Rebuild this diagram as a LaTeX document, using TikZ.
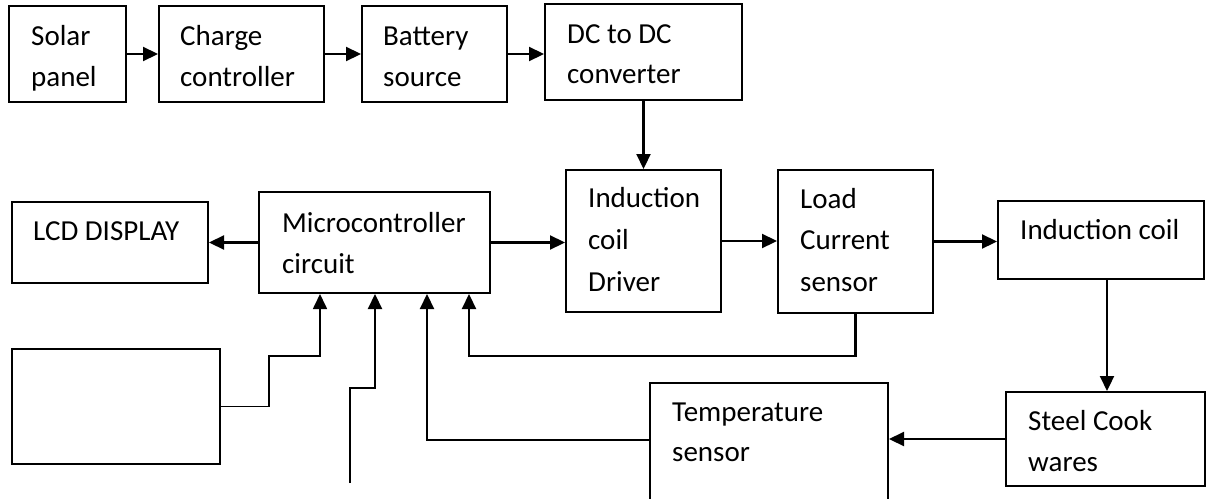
\documentclass[tikz,border=0pt]{standalone}
\usepackage{fontspec}
\setmainfont{Carlito}
\usetikzlibrary{arrows.meta}
\begin{document}
\begin{tikzpicture}[x=1pt,y=-1pt,
  box/.style={draw, line width=2pt, inner sep=0pt},
  txt/.style={anchor=base west, inner sep=0pt, font=\fontsize{29}{34}\selectfont},
  arr/.style={line width=2.2pt, -{Triangle[length=15pt,width=14pt]}}]
\useasboundingbox (0,0) rectangle (1207,498);
% boxes
\node[box, minimum width=117pt, minimum height=96pt] (solar) at (67.5,54) {};
\node[box, minimum width=165pt, minimum height=96pt] (charge) at (241.5,54) {};
\node[box, minimum width=145pt, minimum height=96pt] (battery) at (434.5,54) {};
\node[box, minimum width=197pt, minimum height=96pt] (dcdc) at (643.5,52) {};
\node[box, minimum width=196pt, minimum height=81pt] (lcd) at (110,242.5) {};
\node[box, minimum width=231pt, minimum height=101pt] (micro) at (374.5,242.5) {};
\node[box, minimum width=155pt, minimum height=142pt] (driver) at (643.5,241) {};
\node[box, minimum width=155pt, minimum height=143pt] (load) at (855.5,241.5) {};
\node[box, minimum width=206pt, minimum height=78pt] (coil) at (1101,240) {};
\node[box, minimum width=208pt, minimum height=115pt] (blank) at (116,406.5) {};
\node[box, minimum width=238pt, minimum height=124pt] (temp) at (769,445) {};
\node[box, minimum width=199pt, minimum height=94pt] (steel) at (1105.5,439) {};
% texts
\node[txt] (t1) at (31,45) {Solar};
\node[txt] (t2) at (31,86) {panel};
\node[txt] (t3) at (180,45) {Charge};
\node[txt] (t4) at (180,86) {controller};
\node[txt] (t5) at (383,45) {Battery};
\node[txt] (t6) at (383,86) {source};
\node[txt] (t7) at (567,43) {DC to DC};
\node[txt] (t8) at (567,83) {converter};
\node[txt] (t9) at (33,240) {LCD DISPLAY};
\node[txt] (t10) at (282,232) {Microcontroller};
\node[txt] (t11) at (282,273) {circuit};
\node[txt] (t12) at (588,207) {Induction};
\node[txt] (t13) at (588,249) {coil};
\node[txt] (t14) at (588,291) {Driver};
\node[txt] (t15) at (800,208) {Load};
\node[txt] (t16) at (800,249) {Current};
\node[txt] (t17) at (800,291) {sensor};
\node[txt] (t18) at (1020,239) {Induction coil};
\node[txt] (t19) at (672,421) {Temperature};
\node[txt] (t20) at (672,461) {sensor};
\node[txt] (t21) at (1028,430) {Steel Cook};
\node[txt] (t22) at (1028,471) {wares};
% helper coordinates
\coordinate (fb) at (469,356);
\coordinate (s1a) at (269,356);
\coordinate (s1b) at (320,356);
\coordinate (free) at (350,483);
\coordinate (s2) at (375,388);
% connectors
\draw[arr] (solar.east) -- (charge.west);
\draw[arr] (charge.east) -- (battery.west);
\draw[arr] (battery.east) -- (battery.east -| dcdc.west);
\draw[arr] (dcdc.south) -- (driver.north);
\draw[arr] (micro.west) -- (lcd.east);
\draw[arr] (micro.east) -- (micro.east -| driver.west);
\draw[arr] (driver.east) -- (driver.east -| load.west);
\draw[arr] (load.east) -- (load.east -| coil.west);
\draw[arr] ([xshift=6pt]coil.south) -- ([xshift=6pt]coil.south |- steel.north);
\draw[arr] (steel.west) -- (steel.west -| temp.east);
\draw[arr] (temp.west |- 0,440) -| ([xshift=52.5pt]micro.south);
\draw[arr] (load.south) |- (fb) -- (fb |- micro.south);
\draw[arr, line width=1.7pt] (blank.east) -| (s1a) -- (s1b) -- (s1b |- micro.south);
\draw[arr] (free) |- (s2) -- (s2 |- micro.south);
\end{tikzpicture}
\end{document}
